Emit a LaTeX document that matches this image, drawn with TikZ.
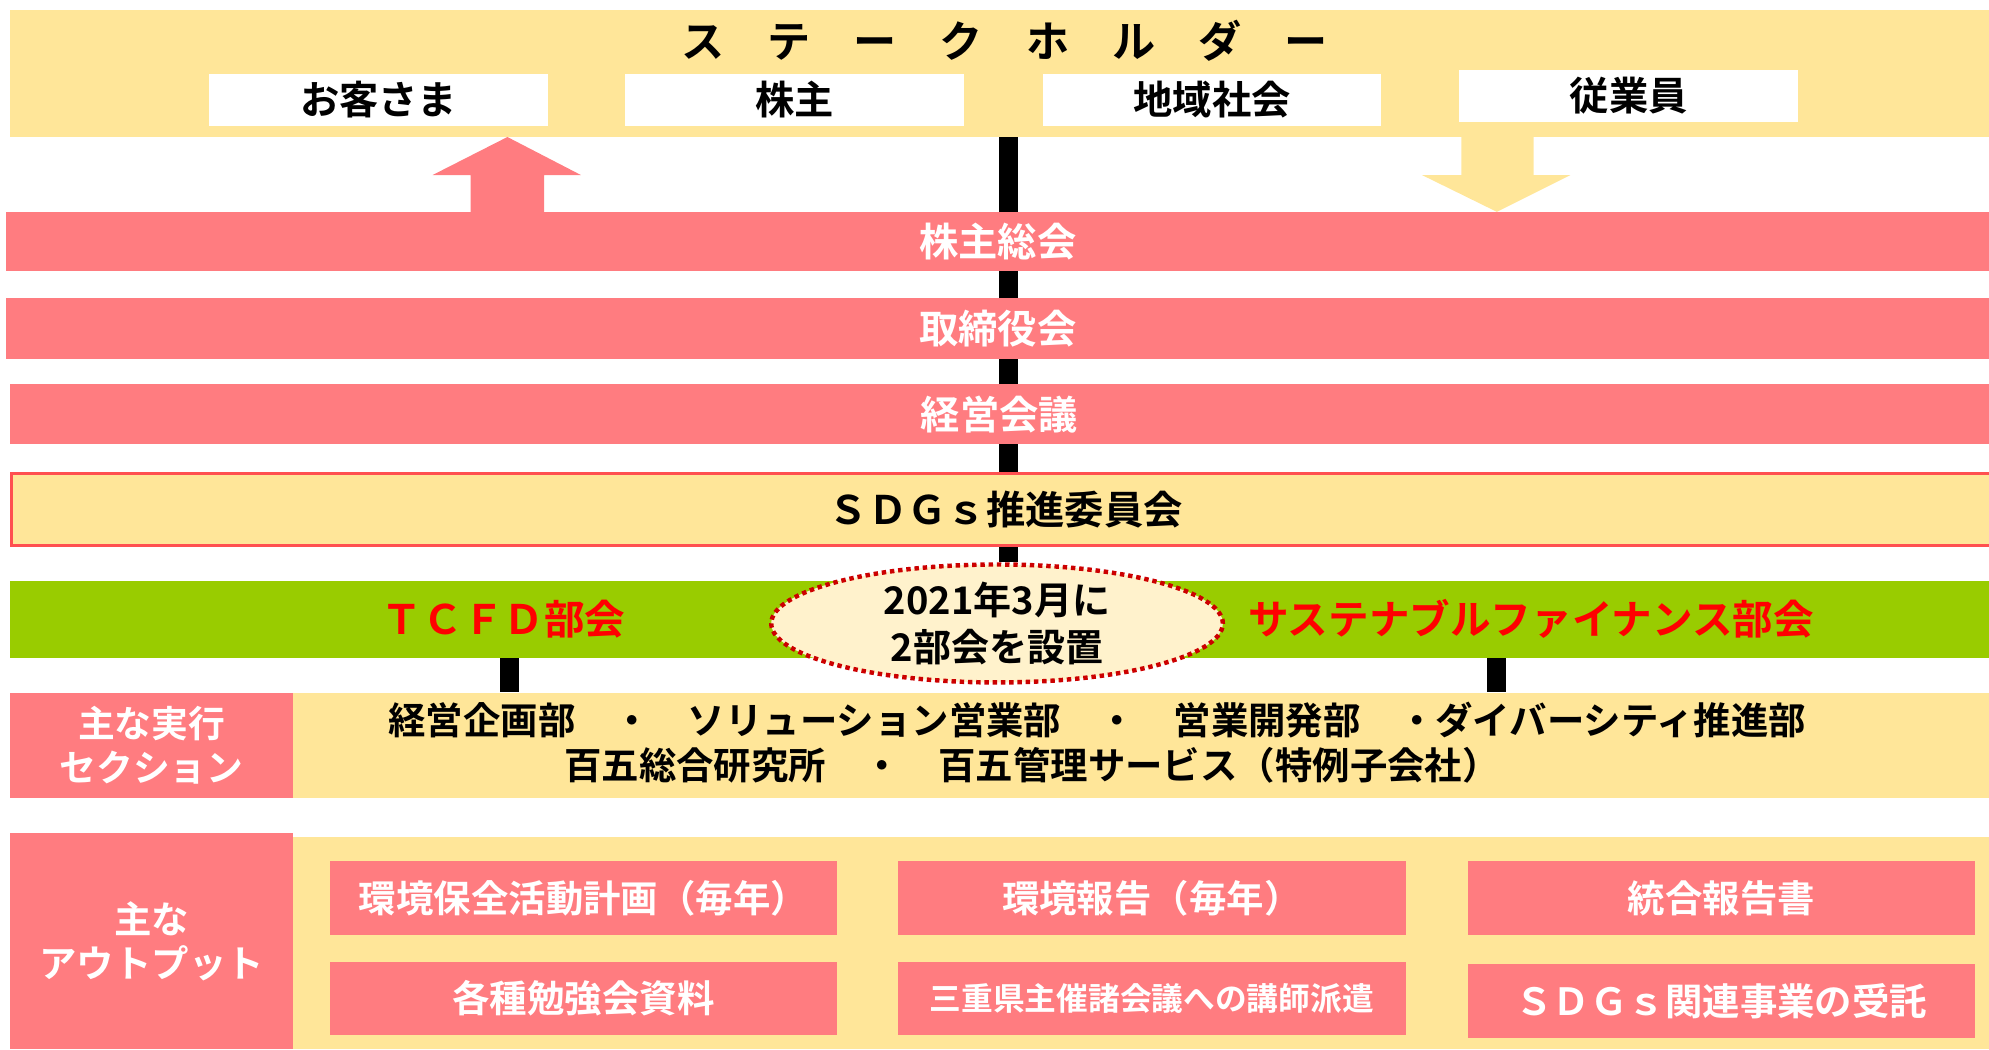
\documentclass[tikz,border=0pt]{standalone}
\usepackage{fontspec}
\setmainfont{Noto Sans CJK JP}[BoldFont={Noto Sans CJK JP Bold}]
\usetikzlibrary{shapes.geometric,backgrounds}

\definecolor{paleyellow}{RGB}{255,230,153}
\definecolor{rosepink}{RGB}{255,124,128}
\definecolor{leafgreen}{RGB}{153,204,0}
\definecolor{creamfill}{RGB}{255,242,204}
\definecolor{dotred}{RGB}{204,0,0}
\definecolor{framered}{RGB}{255,80,80}

\newcommand{\jpsize}[2]{\bfseries\fontsize{#1}{#2}\selectfont}

\begin{document}
\begin{tikzpicture}[x=1pt,y=-1pt,
    every node/.style={inner sep=0pt,font=\jpsize{29.5}{35}},
    panel/.style={fill=paleyellow},
    title/.style={font=\jpsize{34}{40}},
    namebox/.style={fill=white,minimum width=267pt,minimum height=41pt,font=\jpsize{31}{36}},
    band/.style={fill=rosepink,text=white,minimum width=1563pt,minimum height=47pt,font=\jpsize{31}{36}},
    sdgsbox/.style={fill=paleyellow,draw=framered,line width=2.5pt,minimum width=1580pt,minimum height=57pt,font=\jpsize{31}{36}},
    greenbar/.style={fill=leafgreen,minimum width=1560pt,minimum height=61pt},
    redtitle/.style={text=red,font=\jpsize{32}{36}},
    memo/.style={ellipse,fill=creamfill,draw=dotred,line width=3.5pt,dash pattern=on 3.5pt off 3pt,
                 minimum width=356pt,minimum height=93pt,align=center,font=\jpsize{30}{37}},
    tag/.style={fill=rosepink,text=white,minimum width=223pt,minimum height=83pt,align=center},
    outbox/.style={fill=rosepink,text=white,minimum width=400pt,minimum height=58pt},
    trunk/.style={line width=15.5pt},
    stub/.style={line width=15pt}]
  \useasboundingbox (0,0) rectangle (1568,827);

  % stakeholders
  \node[panel,minimum width=1560pt,minimum height=100pt] (stake) at (788,58) {};
  \node[title] (stakelabel) at (792,32) {ス　テ　ー　ク　ホ　ル　ダ　ー};
  \node[namebox] (customer) at (298.5,78.5) {お客さま};
  \node[namebox] (holder) at (626.5,78.5) {株主};
  \node[namebox] (region) at (955.5,78.5) {地域社会};
  \node[namebox] (staff) at (1284,75.5) {従業員};

  % up and down arrows
  \fill[rosepink] (341,138) -- (400,108) -- (458,138) -- (429,138) -- (429,167)
                  -- (371,167) -- (371,138) -- cycle;
  \fill[paleyellow] (1152,108) -- (1209,108) -- (1209,138) -- (1238,138) -- (1180,167)
                  -- (1121,138) -- (1152,138) -- cycle;

  % governance
  \node[band] (meeting) at (786.5,190.5) {株主総会};
  \node[band,minimum height=48pt] (board) at (786.5,259) {取締役会};
  \node[band,minimum width=1560pt] (exec) at (788,326.5) {経営会議};
  \node[sdgsbox] (sdgs) at (799,401.5) {};
  \node[font=\jpsize{31}{36}] (sdgslabel) at (793,402) {ＳＤＧｓ推進委員会};

  % working groups
  \node[greenbar] (green) at (788,488.5) {};
  \node[redtitle] (tcfd) at (397,488) {ＴＣＦＤ部会};
  \node[redtitle] (susfin) at (1207,488) {サステナブルファイナンス部会};
  \node[memo] (memo) at (786,491.5) {2021年3月に\\2部会を設置};
  \coordinate (trunktop) at (795,108);
  \coordinate (tcfdfoot) at (401.5,519);
  \coordinate (susfinfoot) at (1179.5,519);

  % sections
  \node[panel,minimum width=1337pt,minimum height=83pt] (secrow) at (899.5,587.5) {};
  \node[tag,font=\jpsize{29}{35}] (sectag) at (119.5,587.5) {主な実行\\セクション};
  \node (secline1) at (865,568) {経営企画部　・　ソリューション営業部　・　営業開発部　・ダイバーシティ推進部};
  \node (secline2) at (813.5,603) {百五総合研究所　・　百五管理サービス（特例子会社）};

  % outputs
  \node[panel,minimum width=1560pt,minimum height=167pt] (outrow) at (788,743.5) {};
  \node[tag,minimum height=170pt] (outtag) at (119.5,742) {主な\\アウトプット};
  \node[outbox] (plan) at (460,708) {環境保全活動計画（毎年）};
  \node[outbox] (report) at (908,708) {環境報告（毎年）};
  \node[outbox] (integrated) at (1357,708) {統合報告書};
  \node[outbox] (study) at (460,787) {各種勉強会資料};
  \node[outbox,font=\jpsize{25}{30}] (lecture) at (908,787) {三重県主催諸会議への講師派遣};
  \node[outbox] (contract) at (1357,789) {ＳＤＧｓ関連事業の受託};

  \begin{pgfonlayer}{background}
    \draw[trunk] (trunktop) -- (trunktop |- memo.north);
    \draw[stub] (tcfdfoot) -- (tcfdfoot |- secrow.north);
    \draw[stub] (susfinfoot) -- (susfinfoot |- secrow.north);
  \end{pgfonlayer}
\end{tikzpicture}
\end{document}
